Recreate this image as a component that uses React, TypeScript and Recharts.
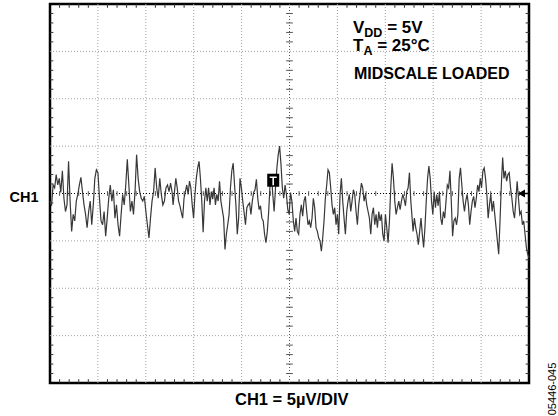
import React from 'react';
import { LineChart, Line, XAxis, YAxis, ReferenceLine, ReferenceArea, ReferenceDot } from 'recharts';

// CH1 noise trace in µV (5µV/DIV) left to right, in four chunks
const traceA = [
  -0.8, -1.3, 0.9, 0.6, 2.0, 0.9, 1.6, 0.1, 2.4, -0.5, -1.9, -1.2, 3.4, -0.8, -4.0, -2.2, -2.9, -0.8, -0.1, 0.9,
  1.7, 0.2, -1.2, -2.2, -3.6, -1.9, -0.8, -3.3, -1.2, 1.6, 2.5, 2.2, -0.5, -2.9, -3.3, -1.9, -4.5, -2.6, -0.5, 0.9,
  -0.8, 0.4, -2.6, -1.2, -3.3, -4.5, -2.2, -0.1, -1.2, 0.9, 3.6, 0.9, -1.9, -0.8, -2.2, 0.2, 4.1, 1.6, 0.2, -0.5,
  -0.8, -0.3, -1.9, -3.3, -4.7, -2.6, -0.8, 0.2, 2.7, 0.6, -0.5, 1.6, -0.1, -1.2, -0.8, 0.6, 0.9, 0.2, 1.1, 0.1,
];
const traceB = [
  -1.2, 0.2, 1.6, 0.6, -0.8, -1.3, -2.0, -2.6, -0.5, 0.2, 0.9, -0.1, 1.3, 0.6, -1.2, -2.6, -0.1, 1.6, 2.7, 3.4,
  1.6, -0.8, -4.1, -0.8, 0.6, -0.8, 0.6, -1.2, 0.2, -0.6, 0.6, -1.2, -0.1, -0.8, 1.3, -0.8, -1.7, -2.6, -5.9, -4.3,
  -3.3, -2.2, 0.6, 2.4, 3.2, 0.9, -1.2, -4.3, -2.6, 1.6, 0.6, -0.8, -2.0, -3.3, -1.5, -1.2, -1.0, -2.2, -0.8, 0.1,
  0.4, 1.5, -0.5, -1.7, -1.3, -2.6, -2.9, -4.3, -5.2, -4.0, -1.9, 0.9, 2.0, -0.1, -1.9, 0.6, 2.7, 4.1, 5.0, 3.1,
  0.6, -0.5, 0.9, -0.1, -1.7, -2.2, 0.1, -0.8,
];
const traceC = [
  -2.9, -4.0, -2.6, -4.0, -4.3, -2.2, -1.2, -2.4, -0.8, -0.3, -1.9, -3.3, -2.9, -3.6, -2.6, -0.5, -1.5, -3.6, -4.0, -4.7,
  -5.0, -6.1, -4.7, -2.9, -0.5, 0.9, 2.5, 2.2, 0.6, -1.2, -2.2, -1.5, -3.3, -2.2, -4.3, -0.1, 1.6, -0.8, -2.6, -4.3,
  -1.9, -0.8, -0.1, -1.9, -0.8, 0.4, -0.1, -1.9, -3.3, -1.2, -0.1, 1.1, 0.6, -0.8, -0.1, -1.2, -1.9, -2.6, -4.3, -2.2,
  -1.5, -3.3, -2.2, -3.6, -1.9, -2.9, -2.2, -4.3, -5.0, -2.2, -3.6, -5.2, -2.9, 0.6, 3.2, 1.6, -0.8, -2.2, -1.5, -0.8,
  -1.7, -0.8, -0.1, -0.6, -1.3, 0.2, 0.6, 2.2, -0.8, -2.6,
];
const traceD = [
  -4.0, -2.6, -3.6, -4.3, -5.4, -4.0, -2.6, -4.3, -5.7, -3.6, -0.8, 1.6, 2.9, 1.6, -0.8, -2.2, 0.2, -1.5, -0.1, -1.3,
  0.2, -2.6, -3.3, -1.9, -2.6, -0.8, 0.9, 0.6, 2.4, -0.8, -4.5, -2.9, -2.6, -3.3, -2.2, 1.6, 2.7, 0.9, -0.8, -1.9,
  -0.8, -0.1, -1.2, -3.3, -1.9, -0.8, -0.3, -1.5, -0.5, 0.9, 0.2, 1.6, 0.6, 2.4, 2.7, 1.6, -0.1, -2.6, -1.2, -0.1,
  -1.9, -0.8, -2.2, -3.6, -5.0, -6.4, -2.9, 0.9, 3.8, 1.6, 2.4, 1.3, 2.0, 2.2, 0.6, -0.5, -1.9, -2.6, -0.8, 1.3,
  -0.5, -2.2, -1.9, -3.3, -2.9, -4.3, -5.7, -6.4, -6.8,
];
// time span (in divisions) that each chunk covers on screen
const chunkSpans = [
  [0, 2.55],
  [2.57, 5.05],
  [5.08, 7.56],
  [7.58, 10],
];

// screen graticule: 10 horizontal divisions, 8 vertical divisions of 5µV
const xDivs = [0, 1, 2, 3, 4, 5, 6, 7, 8, 9, 10];
const yDivs = [-20, -15, -10, -5, 0, 5, 10, 15, 20];
const xMinor = xDivs.slice(0, -1).flatMap(d => [0.2, 0.4, 0.6, 0.8].map(f => d + f));
const yMinor = yDivs.slice(0, -1).flatMap(d => [1, 2, 3, 4].map(f => d + f));

const chartData = [traceA, traceB, traceC, traceD].flatMap((chunk, c) => {
  const [t0, t1] = chunkSpans[c];
  return chunk.map((v, i) => ({ t: t0 + (i * (t1 - t0)) / (chunk.length - 1), v }));
});

// trigger marker position (div, µV)
const trigger = { t: 4.66, v: 1.4 };

const font = '"Liberation Sans", Arial, sans-serif';

const TriggerMark = (props: any) => {
  const { cx, cy } = props;
  return (
    <g>
      <rect x={cx - 6} y={cy - 6.5} width={12} height={13} fill="#000" />
      <path d={`M${cx - 3.5},${cy - 3}H${cx + 3.5}M${cx},${cy - 3}V${cy + 5}`} stroke="#fff" strokeWidth={1.6} />
    </g>
  );
};

const LevelArrow = (props: any) => {
  const { cx, cy } = props;
  return (
    <g>
      <polygon points={`${cx - 11},${cy} ${cx - 4},${cy - 4} ${cx - 4},${cy + 4}`} fill="#000" />
      <line x1={cx - 4} y1={cy} x2={cx} y2={cy} stroke="#000" strokeWidth={1.5} />
    </g>
  );
};

const App: React.FC = () => {
  return (
    <div style={{ position: 'absolute', left: 0, top: 0, width: 558, height: 416, background: '#fff' }}>
      <LineChart width={558} height={416} data={chartData} margin={{ top: 4, right: 29, bottom: 33, left: 50 }}>
        <XAxis dataKey="t" type="number" domain={[0, 10]} hide />
        <YAxis type="number" domain={[-20, 20]} hide />

        {xDivs.slice(1, -1).filter(d => d !== 5).map(d => (
          <ReferenceLine key={`gx${d}`} x={d} stroke="#a0a0a0" strokeDasharray="1 2" />
        ))}
        {yDivs.slice(1, -1).filter(d => d !== 0).map(d => (
          <ReferenceLine key={`gy${d}`} y={d} stroke="#a0a0a0" strokeDasharray="1 2" />
        ))}
        <ReferenceLine x={5} stroke="#555" strokeDasharray="1 2" />
        <ReferenceLine y={0} stroke="#000" strokeDasharray="1 2" />

        {xMinor.map(d => (
          <ReferenceLine key={`mxc${d}`} segment={[{ x: d, y: -0.25 }, { x: d, y: 0.25 }]} stroke="#555" />
        ))}
        {xMinor.map(d => (
          <ReferenceLine key={`mxb${d}`} segment={[{ x: d, y: -20 }, { x: d, y: -19.6 }]} stroke="#333" />
        ))}
        {xMinor.map(d => (
          <ReferenceLine key={`mxt${d}`} segment={[{ x: d, y: 20 }, { x: d, y: 19.6 }]} stroke="#333" />
        ))}
        {yMinor.map(d => (
          <ReferenceLine key={`myc${d}`} segment={[{ x: 4.93, y: d }, { x: 5.07, y: d }]} stroke="#555" />
        ))}
        {yMinor.map(d => (
          <ReferenceLine key={`myl${d}`} segment={[{ x: 0, y: d }, { x: 0.07, y: d }]} stroke="#333" />
        ))}
        {yMinor.map(d => (
          <ReferenceLine key={`myr${d}`} segment={[{ x: 10, y: d }, { x: 9.93, y: d }]} stroke="#333" />
        ))}

        <Line
          type="linear"
          dataKey="v"
          stroke="#383838"
          strokeWidth={1.2}
          dot={false}
          isAnimationActive={false}
        />

        <ReferenceDot x={trigger.t} y={trigger.v} shape={TriggerMark} ifOverflow="visible" />
        <ReferenceDot x={10} y={0} shape={LevelArrow} ifOverflow="visible" />
        <ReferenceArea x1={0} x2={10} y1={-20} y2={20} fill="none" stroke="#000" strokeWidth={2.5} ifOverflow="visible" />
      </LineChart>

      <svg width={558} height={416} style={{ position: 'absolute', left: 0, top: 0, pointerEvents: 'none' }}>
        <g fontFamily={font} fontWeight="bold" fill="#000">
          <text x={9.5} y={202} fontSize={14.5}>CH1</text>
          <text x={353} y={32.5} fontSize={17}>
            V<tspan fontSize={12.5} dy={4}>DD</tspan><tspan dy={-4}> = 5V</tspan>
          </text>
          <text x={353} y={50.5} fontSize={17}>
            T<tspan fontSize={12.5} dy={4}>A</tspan><tspan dy={-4}> = 25°C</tspan>
          </text>
          <text x={354} y={79} fontSize={16}>MIDSCALE LOADED</text>
          <text x={235} y={405} fontSize={16.5}>CH1 = 5µV/DIV</text>
        </g>
        <text
          x={556}
          y={389}
          fontFamily={font}
          fontSize={11}
          fill="#000"
          textAnchor="middle"
          transform="rotate(-90 556 389)"
        >
          05446-045
        </text>
      </svg>
    </div>
  );
};

export default App;
